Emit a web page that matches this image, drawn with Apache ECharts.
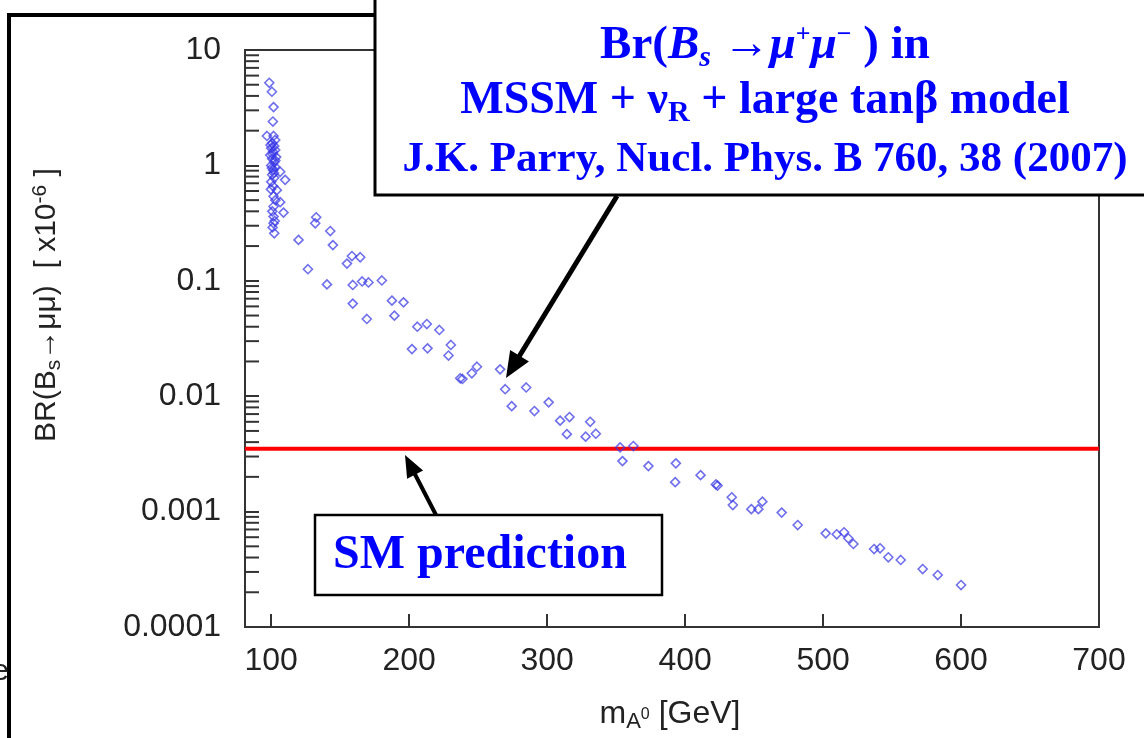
<!DOCTYPE html>
<html><head><meta charset="utf-8">
<script src="https://cdn.jsdelivr.net/npm/echarts@6/dist/echarts.min.js"></script>
<style>html,body{margin:0;padding:0;background:#fff}#c{width:1144px;height:738px}</style>
</head><body><div id="c"></div>
<script>
// ---- data ----
const massGeV = [
  98.6,100.5,101.7,101.2,96.9,101.7,102.9,
  100.7,102.2,100,102.9,101.4,99.3,103.6,100.7,102.2,100,102.9,101.4,106.5,110.1,
  100.7,102.2,100,101.4,104.1,101.7,106.5,101.7,108.9,101.7,101.7,102.2,
  99.5,101,103,100.5,102,99.8,103,100.8,102.5,101,
  132.6,131.9,142.8,119.8,144.7,158.5,164.5,154.9,126.6,140.4,159.1,165.9,170.5,180.2,
  159.1,169.3,187.5,195.9,189.3,205.9,212.8,221.9,202,213.3,230.2,228.5,237,238.6,
  245.4,249.1,265.9,269.6,284.8,274.3,290.8,301.1,309.4,316.2,314.3,331.2,327.9,335.3,
  352.9,362.5,354.6,373.4,393.3,392.8,411.2,422.3,423.5,433.8,434.6,448,453.1,456,
  470,481.6,501.9,509.9,515.2,518.3,522,537,541.3,547.3,556.3,572.2,583.1,600
];
const branchingRatio = [
  5.2,4.35,3.2,2.4,1.8,1.8,1.66,
  1.56,1.47,1.41,1.36,1.31,1.23,1.18,1.14,1.07,1.0,0.97,0.91,0.88,0.75,
  0.83,0.78,0.72,0.66,0.61,0.54,0.48,0.44,0.39,0.36,0.315,0.258,
  1.5,1.25,1.1,0.95,0.86,0.62,0.5,0.4,0.33,0.29,
  0.355,0.315,0.27,0.226,0.204,0.164,0.16,0.141,0.126,0.093,0.092,0.0987,0.0967,0.1007,
  0.0635,0.0467,0.0673,0.0651,0.0499,0.04,0.0422,0.0375,0.0256,0.026,0.0278,0.0225,0.0143,0.0141,
  0.0158,0.018,0.0171,0.0115,0.0119,0.0082,0.00744,0.00885,0.00614,0.0066,0.00469,0.006,0.00446,0.00473,
  0.0036,0.0037,0.00274,0.00248,0.00262,0.0018,0.00207,0.00172,0.00168,0.00133,0.00114,0.00105,0.00105,0.00122,
  0.00098,0.000765,0.000648,0.000636,0.000662,0.000587,0.000524,0.000474,0.000481,0.000402,0.000381,0.000318,0.000282,0.000231
];
const smPrediction = 0.0035;
const xTickValues = [100, 200, 300, 400, 500, 600];
const xLabelValues = [100, 200, 300, 400, 500, 600, 700];
const yTickLabels = ['0.0001', '0.001', '0.01', '0.1', '1', '10'];
const xMin = 81, xMax = 700, yMin = 0.0001, yMax = 10;

// minor log ticks (2..9 in every decade)
const yMinorTicks = [];
for (let e = -4; e < 1; e++) for (let k = 2; k <= 9; k++) yMinorTicks.push(k * Math.pow(10, e));

const points = massGeV.map((m, i) => [m, branchingRatio[i]]);
const smLine = [[xMin, smPrediction], [xMax, smPrediction]];

function arrow(x1, y1, x2, y2, w, hl, hw) {
  const dx = x2 - x1, dy = y2 - y1, L = Math.hypot(dx, dy);
  const ux = dx / L, uy = dy / L, px = -uy, py = ux;
  const bx = x2 - ux * hl, by = y2 - uy * hl;
  return [
    {type: 'line', z: 101, shape: {x1: x1, y1: y1, x2: bx + ux * 2, y2: by + uy * 2},
     style: {stroke: '#000', lineWidth: w}},
    {type: 'polygon', z: 101, shape: {points: [[x2, y2], [bx + px * hw, by + py * hw], [bx - px * hw, by - py * hw]]},
     style: {fill: '#000'}}
  ];
}

const serif = '"Liberation Serif", "Times New Roman", serif';
const blue = '#0000ff';

const chart = echarts.init(document.getElementById('c'), null, {renderer: 'canvas'});
chart.setOption({
  animation: false,
  backgroundColor: '#fff',
  grid: {left: 245, right: 45, top: 50, bottom: 111, show: true, borderColor: '#333', borderWidth: 2},
  xAxis: {
    type: 'value', min: xMin, max: xMax,
    axisLine: {show: true, lineStyle: {color: '#333', width: 2}},
    axisTick: {show: true, inside: true, length: 13, lineStyle: {color: '#333', width: 2}, customValues: xTickValues},
    axisLabel: {color: '#222', fontSize: 32, fontFamily: '"Liberation Sans", Arial, sans-serif', margin: 18,
                customValues: xLabelValues},
    splitLine: {show: false}
  },
  yAxis: {
    type: 'log', logBase: 10, min: yMin, max: yMax,
    axisLine: {show: true, lineStyle: {color: '#333', width: 2}},
    axisTick: {show: true, inside: true, length: 14, lineStyle: {color: '#333', width: 2}},
    axisLabel: {color: '#222', fontSize: 32, fontFamily: '"Liberation Sans", Arial, sans-serif', margin: 24,
                formatter: v => yTickLabels[Math.round(Math.log10(v)) + 4]},
    splitLine: {show: false}
  },
  series: [
    {
      type: 'custom', silent: true, clip: false, z: 3,
      data: yMinorTicks.map(v => [xMin, v]),
      renderItem: (params, api) => {
        const p = api.coord([api.value(0), api.value(1)]);
        return {type: 'line', shape: {x1: p[0], y1: p[1], x2: p[0] + 14, y2: p[1]},
                style: {stroke: '#333', lineWidth: 2}};
      }
    },
    {
      type: 'line', data: smLine, symbol: 'none', silent: true, z: 3,
      lineStyle: {color: '#ff0000', width: 4}
    },
    {
      type: 'scatter', data: points, symbol: 'diamond', symbolSize: [9, 9], z: 4,
      itemStyle: {color: 'rgba(0,0,0,0)', borderColor: 'rgba(55,55,230,0.9)', borderWidth: 1.6}
    }
  ],
  graphic: [
    {type: 'polyline', z: 100, shape: {points: [[9, 740], [9, 15], [380, 15]]}, style: {stroke: '#000', lineWidth: 4, fill: null}},
    {type: 'text', z: 100, x: 9, y: 672, style: {text: 'e', align: 'right', verticalAlign: 'middle',
      font: '30px "Liberation Sans", Arial, sans-serif', fill: '#222'}},
    {type: 'rect', z: 100, shape: {x: 375, y: -4, width: 800, height: 199}, style: {fill: '#fff', stroke: '#000', lineWidth: 3}},
    {type: 'text', z: 101, x: 765, y: 46, style: {
      text: '{n|Br(}{i|B}{is|s}{n| →}{i|μ}{sup|+}{i|μ}{sup|−}{n| ) in}',
      align: 'center', verticalAlign: 'middle', fill: blue,
      rich: {
        n: {font: 'bold 47px ' + serif, fill: blue},
        i: {font: 'italic bold 47px ' + serif, fill: blue},
        is: {font: 'italic bold 30px ' + serif, fill: blue, padding: [24, 0, 0, 0]},
        sup: {font: 'bold 26px ' + serif, fill: blue, padding: [0, 0, 22, 0]}
      }}},
    {type: 'text', z: 101, x: 765, y: 101, style: {
      text: '{n|MSSM + ν}{s|R}{n| + large tanβ model}',
      align: 'center', verticalAlign: 'middle', fill: blue,
      rich: {
        n: {font: 'bold 46px ' + serif, fill: blue},
        s: {font: 'bold 30px ' + serif, fill: blue, padding: [24, 0, 0, 0]}
      }}},
    {type: 'text', z: 101, x: 765, y: 160, style: {
      text: 'J.K. Parry, Nucl. Phys. B 760, 38 (2007)', align: 'center', verticalAlign: 'middle',
      font: 'bold 43px ' + serif, fill: blue}},
    {type: 'rect', z: 100, shape: {x: 315, y: 515, width: 347, height: 80}, style: {fill: '#fff', stroke: '#000', lineWidth: 2.5}},
    {type: 'text', z: 101, x: 480, y: 556, style: {text: 'SM prediction', align: 'center', verticalAlign: 'middle',
      font: 'bold 48px ' + serif, fill: blue}},
    ...arrow(617, 196, 506, 378, 5, 26, 11),
    ...arrow(436, 515, 405, 455, 4, 22, 9),
    {type: 'text', z: 100, x: 670, y: 714, style: {
      text: '{n|m}{s|A}{ss|0}{n| [GeV]}', align: 'center', verticalAlign: 'middle', fill: '#222',
      rich: {
        n: {font: '32px "Liberation Sans", Arial, sans-serif', fill: '#222'},
        s: {font: '22px "Liberation Sans", Arial, sans-serif', fill: '#222', padding: [16, 0, 0, 0]},
        ss: {font: '16px "Liberation Sans", Arial, sans-serif', fill: '#222', padding: [2, 0, 0, 0]}
      }}},
    {type: 'text', z: 100, x: 47, y: 305, rotation: Math.PI / 2, style: {
      text: '{n|BR(B}{s|s}{n|→μμ)  [ x10}{p|-6}{n| ]}', align: 'center', verticalAlign: 'middle', fill: '#222',
      rich: {
        n: {font: '30px "Liberation Sans", Arial, sans-serif', fill: '#222'},
        s: {font: '21px "Liberation Sans", Arial, sans-serif', fill: '#222', padding: [14, 0, 0, 0]},
        p: {font: '21px "Liberation Sans", Arial, sans-serif', fill: '#222', padding: [0, 0, 14, 0]}
      }}}
  ]
});
</script></body></html>
